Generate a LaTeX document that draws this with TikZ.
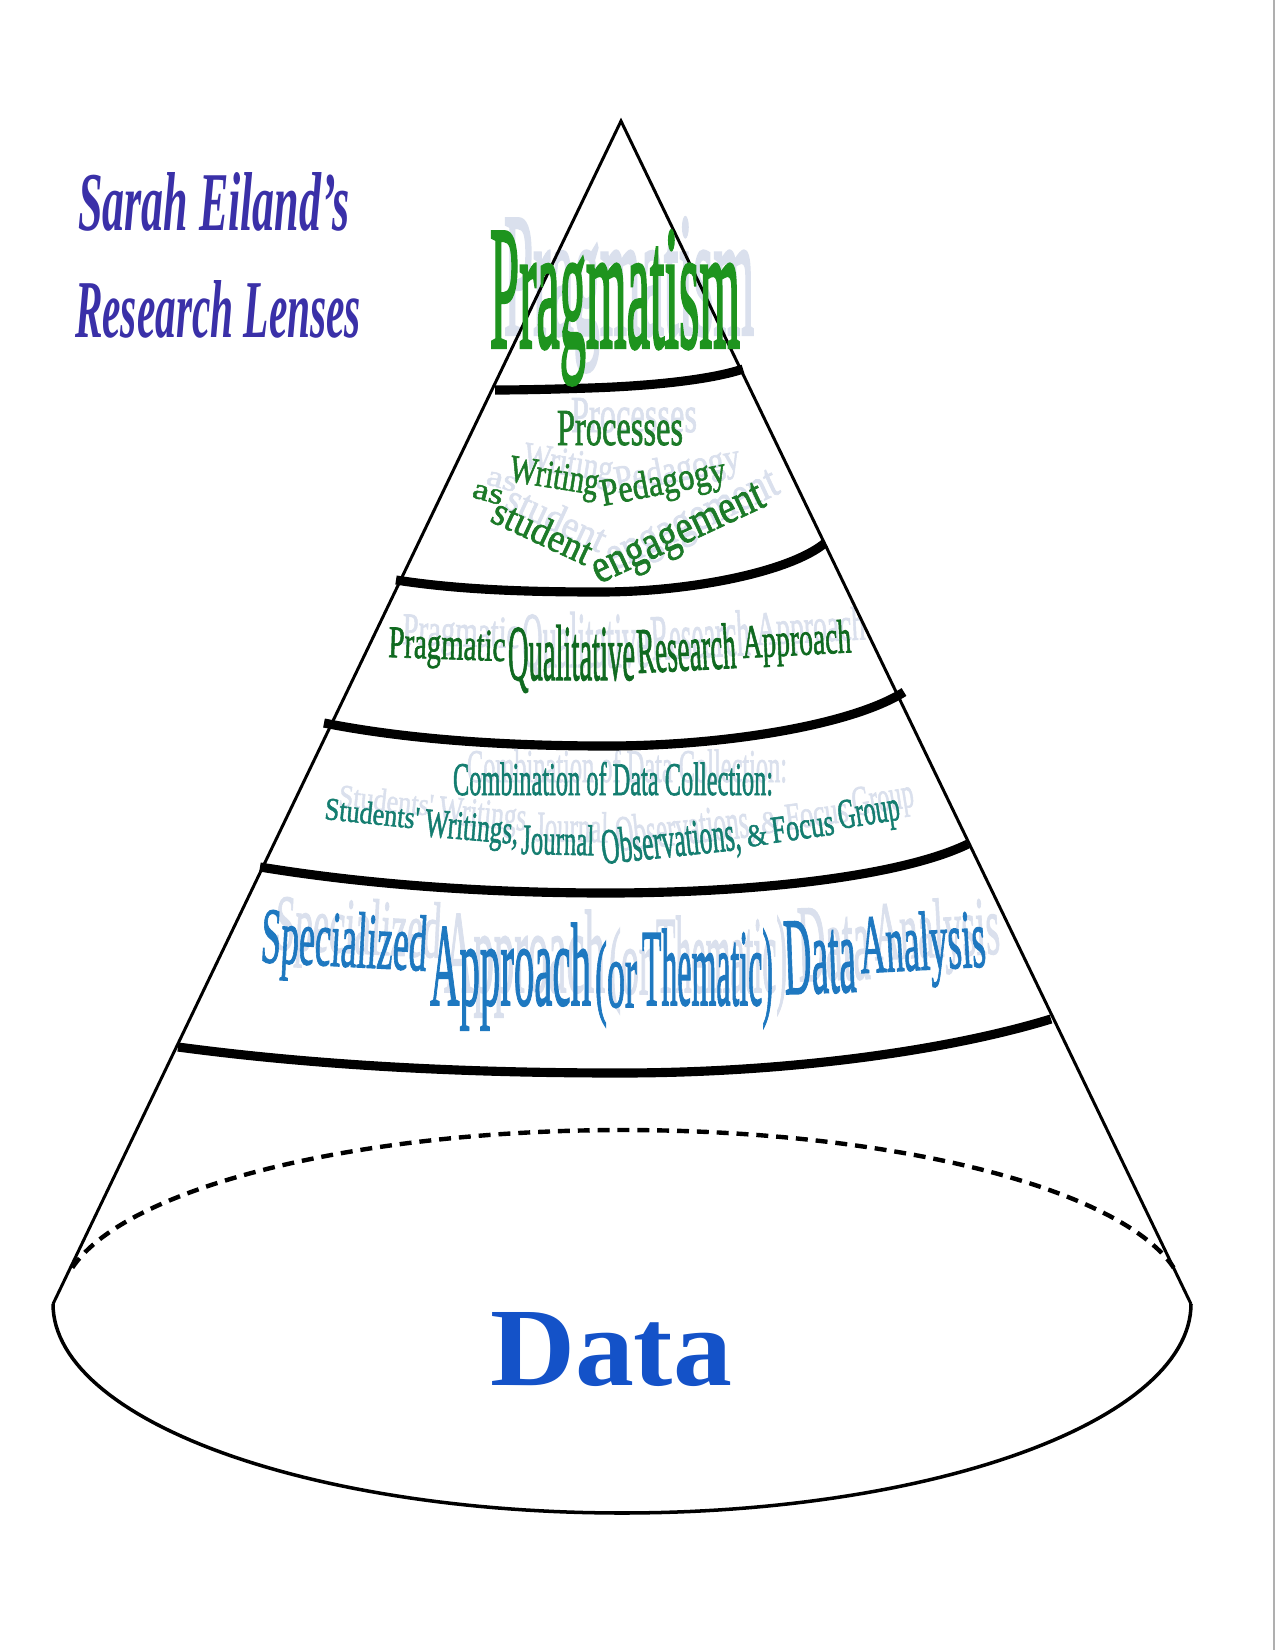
\documentclass[tikz,border=0pt]{standalone}
\usepackage{fontspec}
\setmainfont{Liberation Serif}
\newfontfamily\waface{Liberation Serif}[FakeBold=1.6]
\newfontfamily\waheavy{Liberation Serif}[FakeBold=2.4]
\usepackage{graphicx}
\definecolor{pragGreen}{RGB}{30,148,30}
\definecolor{procGreen}{RGB}{28,122,40}
\definecolor{pqGreen}{RGB}{16,106,32}
\definecolor{tealC}{RGB}{20,125,112}
\definecolor{specBlue}{RGB}{30,120,192}
\definecolor{dataBlue}{RGB}{20,82,200}
\definecolor{titlePurple}{RGB}{58,48,168}
\definecolor{ghostC}{RGB}{218,224,237}
\definecolor{edgeGray}{RGB}{175,175,175}
\newlength\pxu
\setlength\pxu{0.02cm}
\newcommand\waghost[8]{\node[ghostword, rotate=#4] (#1-g) at (#2+14,#3-13) {\resizebox{#5\pxu}{#6\pxu}{#8}};}
\newcommand\wamain[8]{\node[mainword, rotate=#4, text=#7] (#1) at (#2,#3) {\resizebox{#5\pxu}{#6\pxu}{#8}};}
\newcommand\wordlist{%
\wapiece{prag}{490}{347}{0}{250}{116}{pragGreen}{\waheavy Pragmatism}
\wapiece{proc}{557}{445}{0}{126}{34}{procGreen}{Processes}
\wapiece{writ}{508}{481}{-9}{90}{26}{procGreen}{Writing}
\wapiece{peda}{603}{506}{11}{127}{27}{procGreen}{Pedagogy}
\wapiece{as}{471}{497}{-15}{31}{14}{procGreen}{as}
\wapiece{stud}{489}{521}{-25}{106}{28}{procGreen}{student}
\wapiece{enga}{599}{584}{25}{186}{27}{procGreen}{engagement}
\wapiece{pqa}{388}{657}{-2}{117}{30}{pqGreen}{Pragmatic}
\wapiece{pqb}{508}{680}{0}{127}{55}{pqGreen}{Qualitative}
\wapiece{pqc}{638}{673}{3}{99}{45}{pqGreen}{Research}
\wapiece{pqd}{743}{658}{3}{109}{33}{pqGreen}{Approach}
\wapiece{dca}{453}{795}{0}{320}{33}{tealC}{Combination of Data Collection:}
\wapiece{dcb}{324}{819}{-6}{95}{22}{tealC}{Students'}
\wapiece{dcc}{424}{836}{-5}{94}{27}{tealC}{Writings,}
\wapiece{dcd}{521}{854}{-1}{73}{30}{tealC}{Journal}
\wapiece{dce}{603}{864}{6}{140}{35}{tealC}{Observations,}
\wapiece{dcf}{748}{847}{8}{21}{21}{tealC}{\&}
\wapiece{dcg}{773}{843}{8}{63}{25}{tealC}{Focus}
\wapiece{dch}{840}{829}{9}{62}{28}{tealC}{Group}
\wapiece{spa}{260}{962}{-3}{166}{55}{specBlue}{Specialized}
\wapiece{spb}{430}{1005}{0}{161}{82}{specBlue}{Approach}
\wapiece{spc}{595}{1007}{0}{42}{66}{specBlue}{(or}
\wapiece{spd}{642}{1005}{0}{131}{76}{specBlue}{Thematic)}
\wapiece{spe}{785}{994}{2}{72}{72}{specBlue}{Data}
\wapiece{spf}{861}{973}{3}{126}{58}{specBlue}{Analysis}
}
\begin{document}
\begin{tikzpicture}[x=0.02cm, y=-0.02cm,
  conestroke/.style={line width=1.7pt, line join=miter},
  bandstroke/.style={line width=5.2pt, line cap=butt},
  rimstroke/.style={line width=2pt},
  rimdash/.style={line width=2.5pt, dash pattern=on 6.8pt off 4.5pt},
  ghostword/.style={inner sep=0pt, outer sep=0pt, anchor=base west, text=ghostC, font=\waface},
  mainword/.style={inner sep=0pt, outer sep=0pt, anchor=base west, font=\waface},
  titleword/.style={inner sep=0pt, outer sep=0pt, anchor=base west, text=titlePurple}]
\useasboundingbox (0,0) rectangle (1275,1650);
\fill[white] (0,0) rectangle (1275,1650);
% ghost shadows of the word art
\let\wapiece\waghost
\wordlist
% cone
\draw[conestroke] (53,1304) -- (621,121) -- (1191,1304);
% bands
\draw[bandstroke] (495,390) .. controls (525,390) and (560,389) .. (590,388) .. controls (650,386) and (710,380) .. (743,369);
\draw[bandstroke] (396,580) .. controls (460,590) and (530,592) .. (600,592) .. controls (690,592) and (790,572) .. (825,543);
\draw[bandstroke] (324,723) .. controls (410,740) and (510,746) .. (607,746) .. controls (720,746) and (850,726) .. (904,692);
\draw[bandstroke] (260,867) .. controls (370,885) and (490,893) .. (607,893) .. controls (750,893) and (900,877) .. (968,844);
\draw[bandstroke] (178,1047) .. controls (320,1066) and (470,1073) .. (620,1073) .. controls (790,1073) and (950,1050) .. (1051,1019);
% base
\draw[rimstroke] plot[domain=0:180, samples=120, variable=\t] ({622+569*cos(\t)},{1304+209*sin(\t)});
\draw[rimdash] plot[domain=191.5:348.5, samples=120, variable=\t] ({623+562*cos(\t)},{1302+172*sin(\t)});
% right page edge
\draw[edgeGray, line width=1.1pt] (1274,0) -- (1274,1650);
% main word art
\let\wapiece\wamain
\wordlist
% title
\node[titleword] (titleA) at (78,230) {\resizebox{272\pxu}{58\pxu}{\bfseries\itshape Sarah Eiland's}};
\node[titleword] (titleB) at (75,337) {\resizebox{286\pxu}{57\pxu}{\bfseries\itshape Research Lenses}};
% data
\node[mainword, font=\bfseries, text=dataBlue] (data) at (490,1385) {\resizebox{242\pxu}{73\pxu}{Data}};
\end{tikzpicture}
\end{document}
